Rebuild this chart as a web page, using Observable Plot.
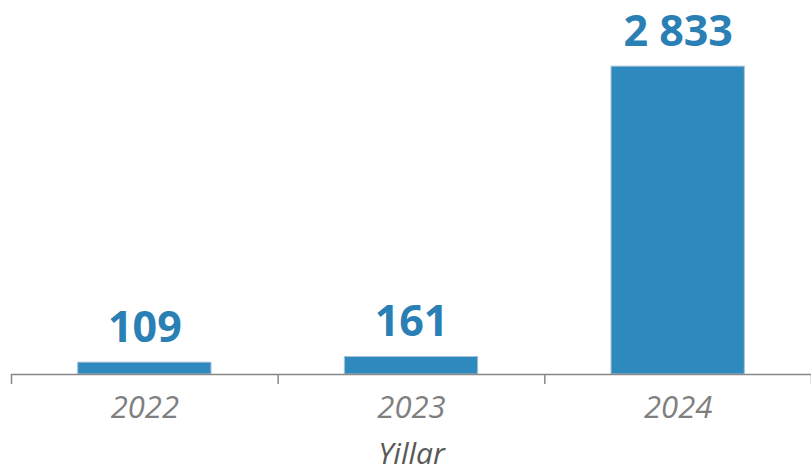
<!DOCTYPE html>
<html>
<head>
<meta charset="utf-8">
<script src="https://cdn.jsdelivr.net/npm/d3@7"></script>
<script src="https://cdn.jsdelivr.net/npm/@observablehq/plot@0.6"></script>
<style>
  html, body { margin: 0; padding: 0; background: #fff; }
  #chart svg { display: block; }
</style>
</head>
<body>
<div id="chart"></div>
<script>
const years = ["2022", "2023", "2024"];
const values = [109, 161, 2833];
const valueLabels = ["109", "161", "2 833"];
const axisTitle = "Yillar";

const data = years.map((y, i) => ({ i, year: y, value: values[i], label: valueLabels[i] }));
const boundaries = d3.range(years.length + 1);

const chart = Plot.plot({
  width: 811,
  height: 472,
  marginLeft: 11,
  marginRight: 0,
  marginTop: 48,
  marginBottom: 98,
  style: { fontFamily: "'Open Sans', sans-serif", background: "#fff" },
  x: { type: "linear", domain: [0, years.length], axis: null },
  y: { domain: [0, 3000], axis: null },
  marks: [
    Plot.rectY(data, {
      x1: d => d.i + 0.25,
      x2: d => d.i + 0.75,
      y: "value",
      fill: "#2e89bf",
      stroke: "#a9c3d4",
      strokeWidth: 1
    }),
    Plot.ruleY([0], { stroke: "#878787", strokeWidth: 1.5 }),
    Plot.axisX({
      ticks: boundaries,
      tickSize: 10,
      tickFormat: () => "",
      stroke: "#878787",
      strokeWidth: 1.5
    }),
    Plot.axisX({
      ticks: years.map((y, i) => i + 0.5),
      tickSize: 0,
      tickPadding: 21,
      tickFormat: v => years[Math.round(v - 0.5)],
      fontSize: 31,
      fontStyle: "italic",
      fill: "#7f7f7f",
      label: null
    }),
    Plot.text(data, {
      x: d => d.i + 0.5,
      y: "value",
      text: "label",
      lineAnchor: "bottom",
      dy: -21,
      fontSize: 43,
      fontWeight: "bold",
      fill: "#2a80b4"
    }),
    Plot.text([axisTitle], {
      frameAnchor: "bottom",
      lineAnchor: "middle",
      dy: 80,
      fontSize: 30,
      fontStyle: "italic",
      fill: "#595959"
    })
  ]
});
document.getElementById("chart").appendChild(chart);
</script>
</body>
</html>
